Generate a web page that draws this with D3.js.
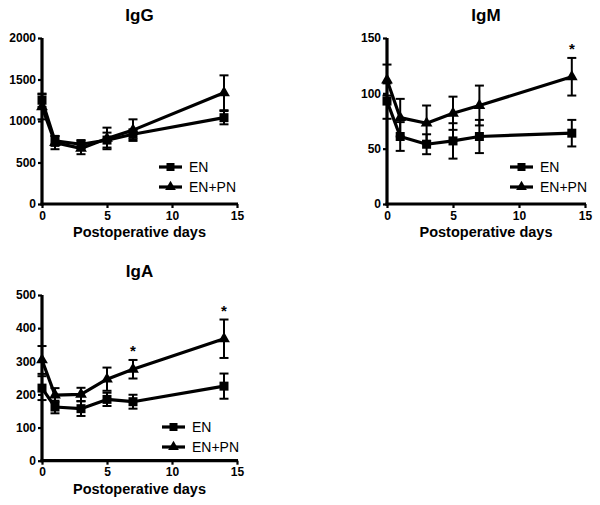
<!DOCTYPE html>
<html><head><meta charset="utf-8">
<script src="https://cdn.jsdelivr.net/npm/d3@7"></script>
<style>body{margin:0;background:#fff}svg{display:block}</style>
</head><body>
<svg id="c" width="600" height="505"></svg>
<script>
const days = [0, 1, 3, 5, 7, 14];
const xTicks = [0, 5, 10, 15];
const seriesNames = ["EN", "EN+PN"];

const iggEN = [1250, 760, 720, 770, 840, 1040];
const iggENerr = [80, 60, 50, 90, 60, 80];
const iggPN = [1170, 740, 670, 790, 890, 1340];
const iggPNerr = [150, 80, 70, 130, 130, 210];
const iggTicks = [0, 500, 1000, 1500, 2000];

const igmEN = [93, 61, 54, 57, 61, 64];
const igmENerr = [16, 13, 9, 16, 15, 12];
const igmPN = [112, 78, 73, 82, 89, 115];
const igmPNerr = [14, 17, 16, 15, 18, 17];
const igmTicks = [0, 50, 100, 150];
const igmStars = [14];

const igaEN = [219, 162, 157, 185, 178, 225];
const igaENerr = [36, 19, 22, 20, 21, 38];
const igaPN = [304, 198, 200, 246, 276, 368];
const igaPNerr = [42, 21, 20, 35, 28, 58];
const igaTicks = [0, 100, 200, 300, 400, 500];
const igaStars = [7, 14];

const svg = d3.select("#c");
const FONT = "Liberation Sans, Arial, Helvetica, sans-serif";

function panel(o) {
  const g = svg.append("g");
  const x = d3.scaleLinear().domain([0, 15]).range([o.x0, o.x1]);
  const y = d3.scaleLinear().domain([0, o.ymax]).range([o.y0, o.y1]);

  const ya = g.append("g").attr("transform", `translate(${o.x0},0)`)
    .call(d3.axisLeft(y).tickValues(o.yTicks).tickFormat(d3.format("d")).tickSize(4).tickPadding(2).tickSizeOuter(0));
  const xa = g.append("g").attr("transform", `translate(0,${o.y0})`)
    .call(d3.axisBottom(x).tickValues(xTicks).tickFormat(d3.format("d")).tickSize(4).tickPadding(3).tickSizeOuter(0));
  [ya, xa].forEach(a => {
    a.select(".domain").attr("stroke", "#000").attr("stroke-width", 3.2);
    a.selectAll(".tick line").attr("stroke", "#000").attr("stroke-width", 2.2);
    a.selectAll("text").attr("font-family", FONT).attr("font-weight", "bold")
      .attr("font-size", 12).attr("fill", "#000");
  });
  xa.select(".domain").attr("d", `M${o.x0 - 1.5},0H${o.x1 + 1}`);
  ya.select(".domain").attr("d", `M0,${o.y1}V${o.y0 + 1.5}`);

  g.append("text").attr("x", (o.x0 + o.x1) / 2).attr("y", o.titleY)
    .attr("text-anchor", "middle").attr("font-family", FONT).attr("font-weight", "bold")
    .attr("font-size", 17).text(o.title);
  g.append("text").attr("x", (o.x0 + o.x1) / 2).attr("y", o.y0 + 33)
    .attr("text-anchor", "middle").attr("font-family", FONT).attr("font-weight", "bold")
    .attr("font-size", 14.5).text("Postoperative days");

  const line = d3.line().x((d, i) => x(days[i])).y(d => y(d));
  const series = [
    {vals: o.en, err: o.enErr, marker: "square"},
    {vals: o.pn, err: o.pnErr, marker: "triangle"}
  ];
  series.forEach(s => {
    const eb = g.append("g").attr("stroke", "#000").attr("stroke-width", 2);
    s.vals.forEach((v, i) => {
      const cx = x(days[i]);
      eb.append("line").attr("x1", cx).attr("x2", cx).attr("y1", y(v - s.err[i])).attr("y2", y(v + s.err[i]));
      [v - s.err[i], v + s.err[i]].forEach(e =>
        eb.append("line").attr("x1", cx - 4.5).attr("x2", cx + 4.5).attr("y1", y(e)).attr("y2", y(e)));
    });
    g.append("path").datum(s.vals).attr("d", line).attr("fill", "none")
      .attr("stroke", "#000").attr("stroke-width", 3.2).attr("stroke-linejoin", "round");
    const sym = s.marker === "square" ? d3.symbolSquare : d3.symbolTriangle;
    const sz = s.marker === "square" ? 81 : 60;
    g.selectAll(null).data(s.vals).enter().append("path")
      .attr("d", d3.symbol().type(sym).size(sz))
      .attr("transform", (d, i) => `translate(${x(days[i])},${y(d)})`)
      .attr("fill", "#000");
  });

  (o.stars || []).forEach(dday => {
    const i = days.indexOf(dday);
    const top = Math.max(o.en[i] + o.enErr[i], o.pn[i] + o.pnErr[i]);
    g.append("text").attr("x", x(dday)).attr("y", y(top) - 4)
      .attr("text-anchor", "middle").attr("font-family", FONT).attr("font-weight", "bold")
      .attr("font-size", 15).text("*");
  });

  seriesNames.forEach((nm, k) => {
    const ly = o.legY + k * 20;
    g.append("line").attr("x1", o.legX).attr("x2", o.legX + 23).attr("y1", ly).attr("y2", ly)
      .attr("stroke", "#000").attr("stroke-width", 3.2);
    const sym = k === 0 ? d3.symbolSquare : d3.symbolTriangle;
    g.append("path").attr("d", d3.symbol().type(sym).size(k === 0 ? 64 : 50))
      .attr("transform", `translate(${o.legX + 11.5},${ly})`).attr("fill", "#000");
    g.append("text").attr("x", o.legX + 30).attr("y", ly + 5)
      .attr("font-family", FONT).attr("font-size", 14).text(nm);
  });
}

panel({title: "IgG", titleY: 21, x0: 42, x1: 237, y0: 204, y1: 38, ymax: 2000, yTicks: iggTicks,
  en: iggEN, enErr: iggENerr, pn: iggPN, pnErr: iggPNerr, legX: 159, legY: 167});
panel({title: "IgM", titleY: 21, x0: 387, x1: 585, y0: 204, y1: 38, ymax: 150, yTicks: igmTicks,
  en: igmEN, enErr: igmENerr, pn: igmPN, pnErr: igmPNerr, stars: igmStars, legX: 510, legY: 167});
panel({title: "IgA", titleY: 277, x0: 42, x1: 237, y0: 460.7, y1: 295, ymax: 500, yTicks: igaTicks,
  en: igaEN, enErr: igaENerr, pn: igaPN, pnErr: igaPNerr, stars: igaStars, legX: 162, legY: 427});
</script>
</body></html>
